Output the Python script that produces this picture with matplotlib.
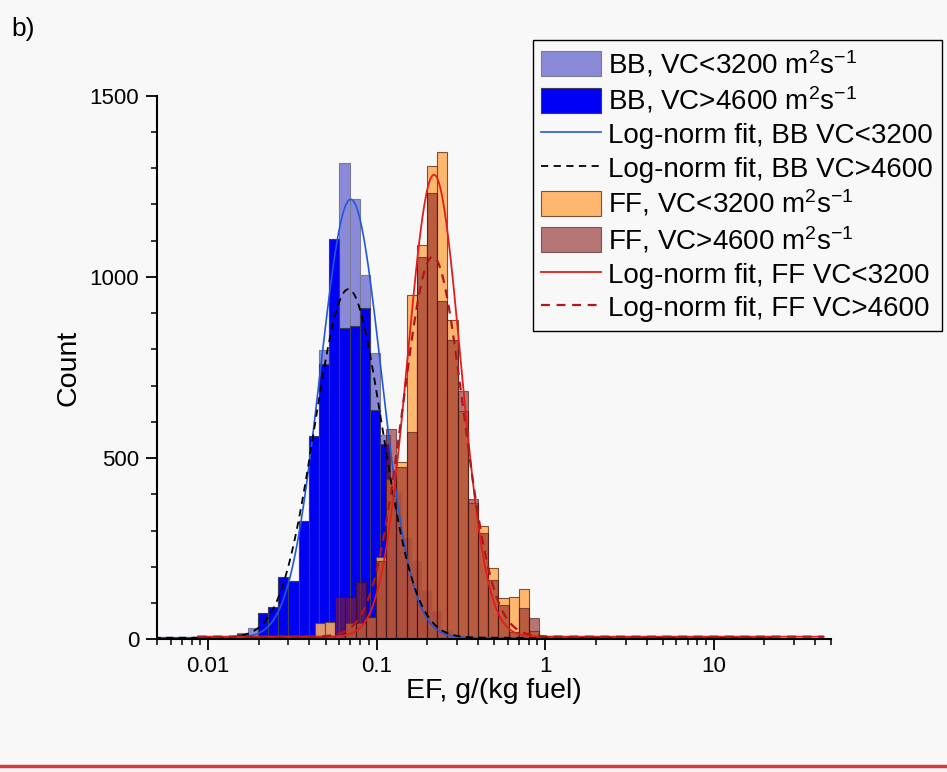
import numpy as np
import matplotlib.pyplot as plt
from matplotlib.lines import Line2D
from matplotlib.ticker import MultipleLocator, LogLocator, FuncFormatter, NullFormatter

plt.rcParams['font.family'] = ['Liberation Sans', 'DejaVu Sans']
plt.rcParams['mathtext.fontset'] = 'custom'
plt.rcParams['mathtext.rm'] = 'Liberation Sans'
plt.rcParams['mathtext.it'] = 'Liberation Sans:italic'

# histogram bins are equal in log10(EF); first edge and width in decades
bin_dlog = 0.0605
bb_log0 = -2.309
ff_log0 = -1.3655

# BB counts (per bin, from bb_log0 upward)
bb_low = [4, 4, 4, 4, 5, 5, 6, 8, 17, 30, 60, 75, 150, 150, 300, 540, 798, 1000,
          1314, 1214, 1005, 790, 565, 410, 260, 200, 120, 60, 25, 10, 4]
bb_high = [2, 2, 2, 2, 2, 3, 3, 4, 15, 8, 72, 88, 171, 160, 327, 561, 760, 1105,
           859, 865, 915, 633, 540, 400, 280, 215, 135, 77, 20, 8, 3]

# FF counts (per bin, from ff_log0 upward)
ff_low = [45, 48, 10, 45, 45, 60, 226, 442, 490, 951, 1088, 1306, 1344, 881,
          630, 375, 313, 196, 113, 116, 138, 22, 5]
ff_high = [5, 10, 116, 116, 157, 60, 215, 581, 475, 572, 1056, 1231, 934, 826,
           685, 387, 292, 163, 95, 20, 86, 58, 5]

# log-normal fits: amplitude, centre log10, sigma (decades), offset, x-range
fit_bb_low = dict(A=1210, mu=-1.153, s=0.181, y0=4, xr=(0.004, 22))
fit_bb_high = dict(A=962, mu=-1.167, s=0.200, y0=4, xr=(0.004, 22))
fit_ff_low = dict(A=1275, mu=-0.659, s=0.156, y0=7, xr=(0.0087, 45))
fit_ff_high = dict(A=1049, mu=-0.666, s=0.178, y0=7, xr=(0.0087, 45))

labels = ['BB, VC<3200 m$^2$s$^{-1}$',
          'BB, VC>4600 m$^2$s$^{-1}$',
          'Log-norm fit, BB VC<3200',
          'Log-norm fit, BB VC>4600',
          'FF, VC<3200 m$^2$s$^{-1}$',
          'FF, VC>4600 m$^2$s$^{-1}$',
          'Log-norm fit, FF VC<3200',
          'Log-norm fit, FF VC>4600']


def edges(log0, n):
    return 10 ** (log0 + bin_dlog * np.arange(n + 1))


def lognorm(p):
    x = np.logspace(np.log10(p['xr'][0]), np.log10(p['xr'][1]), 600)
    y = p['y0'] + p['A'] * np.exp(-(np.log10(x) - p['mu']) ** 2 / (2 * p['s'] ** 2))
    return x, y


bg = '#f8f8f8'
fig = plt.figure(figsize=(9.47, 7.72), dpi=100, facecolor=bg)
ax = fig.add_axes([0.166, 0.172, 0.712, 0.704], facecolor=bg)

e_bb = edges(bb_log0, len(bb_low))
e_ff = edges(ff_log0, len(ff_low))

h1 = ax.bar(e_bb[:-1], bb_low, width=np.diff(e_bb), align='edge',
            color='#8a8ad8', edgecolor='#7a7a92', linewidth=0.8)
h2 = ax.bar(e_bb[:-1], bb_high, width=np.diff(e_bb), align='edge',
            color='#0000f5', edgecolor='#3a3a5a', linewidth=0.8)
h5 = ax.bar(e_ff[:-1], ff_low, width=np.diff(e_ff), align='edge',
            color='#ffae5c', alpha=0.88, edgecolor='#6a4020', linewidth=0.8)
h6 = ax.bar(e_ff[:-1], ff_high, width=np.diff(e_ff), align='edge',
            color='#8b1f1f', alpha=0.6, edgecolor='#3a1010', linewidth=0.8)

x, y = lognorm(fit_bb_low)
h3, = ax.plot(x, y, color='#2257dd', lw=1.2)
x, y = lognorm(fit_bb_high)
h4, = ax.plot(x, y, color='black', lw=1.3, dashes=(4, 3))
x, y = lognorm(fit_ff_low)
h7, = ax.plot(x, y, color='#e51c1c', lw=1.3)
x, y = lognorm(fit_ff_high)
h8, = ax.plot(x, y, color='#b01818', lw=1.6, dashes=(4, 3))

ax.set_xscale('log')
ax.set_xlim(0.005, 50)
ax.set_ylim(0, 1500)

ax.set_xticks([0.01, 0.1, 1, 10])
ax.xaxis.set_major_formatter(FuncFormatter(lambda v, p: '%g' % v))
ax.xaxis.set_minor_locator(LogLocator(base=10, subs=np.arange(2, 10)))
ax.xaxis.set_minor_formatter(NullFormatter())
ax.set_yticks([0, 500, 1000, 1500])
ax.yaxis.set_minor_locator(MultipleLocator(100))

for s in ['top', 'right']:
    ax.spines[s].set_visible(False)
for s in ['left', 'bottom']:
    ax.spines[s].set_linewidth(1.5)

ax.tick_params(which='major', direction='out', length=8, width=1.3, labelsize=16, pad=5)
ax.tick_params(axis='x', which='major', pad=4)
ax.tick_params(which='minor', direction='out', length=4.5, width=1.1)

ax.set_xlabel('EF, g/(kg fuel)', fontsize=20.5, labelpad=1)
ax.set_ylabel('Count', fontsize=20.5, labelpad=6)

fig.text(0.012, 0.962, 'b)', fontsize=19, ha='left', va='center')

leg = ax.legend([h1, h2, h3, h4, h5, h6, h7, h8], labels,
                loc='upper left', bbox_to_anchor=(0.563, 0.948),
                bbox_transform=fig.transFigure, fontsize=20,
                frameon=True, fancybox=False, framealpha=1,
                facecolor=bg, edgecolor='black',
                handlelength=2.16, handleheight=1.0, handletextpad=0.25,
                labelspacing=0.2, borderpad=0.3, borderaxespad=0)
leg.get_frame().set_linewidth(1.0)

# red separator line at the bottom of the figure
fig.add_artist(Line2D([0, 1], [0.008, 0.008], transform=fig.transFigure,
                      color='#d43a3a', lw=2.5))

fig.savefig('out.png', dpi=100, facecolor=bg)
